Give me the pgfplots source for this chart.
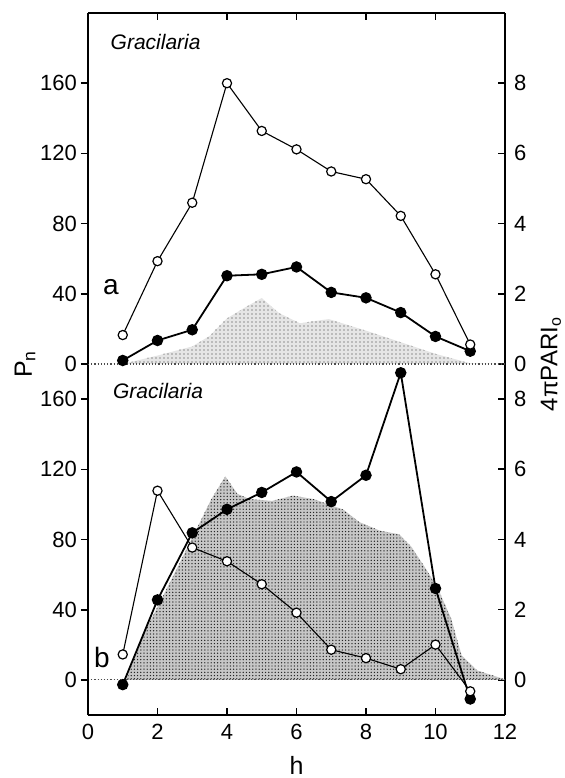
\documentclass[border=0pt]{standalone}
\usepackage{pgfplots}
\pgfplotsset{compat=1.18}
\usetikzlibrary{patterns.meta}
\usepackage{fontspec}
\setmainfont{Liberation Sans}
\begin{document}
\begin{tikzpicture}
\useasboundingbox (-44pt,-31.5pt) rectangle (238.5pt,357.5pt);
\pgfplotsset{
  base/.style={scale only axis, width=208.5pt, height=175.5pt, xmin=0, xmax=12,
    /pgf/number format/assume math mode=true,
    tick label style={font=\fontsize{11}{13}\selectfont},
    major tick length=3.5pt,
    axis line style={line width=1.1pt},
    every tick/.style={black, line width=0.8pt},
    clip=false, anchor=south west},
  filledser/.style={black, line width=0.9pt, mark=*, mark size=2.4pt, mark options={fill=black, solid}},
  openser/.style={black, line width=0.55pt, mark=*, mark size=2.3pt, mark options={fill=white, line width=0.6pt, solid}},
}
% ---------------- bottom panel (b) ----------------
\begin{axis}[base, at={(0,0)}, ymin=-1, ymax=9, axis y line*=right, axis x line=none,
  ytick={0,2,4,6,8}, tick align=inside, yticklabel style={xshift=1pt}]
  \addplot[draw=none, fill=black!22, postaction={pattern={Dots[radius=0.36pt, distance=1.6pt]}, pattern color=black!85}] coordinates {
    (0,0) (1.1,0) (1.6,1.3) (2.6,3.25) (3.55,5.15) (3.95,5.8) (4.3,5.3) (4.65,5.15)
    (5.3,5.1) (5.9,5.25) (6.5,5.15) (7.35,4.85) (7.8,4.5) (8.4,4.25) (8.95,4.15)
    (9.3,3.8) (9.7,3.2) (10.05,2.65) (10.45,1.75) (10.75,0.7) (11.2,0.27) (11.95,0.03) (12,0)
  } -- cycle;
  \addplot[black!70, densely dotted, line width=0.6pt] coordinates {(0,0) (12,0)};
\end{axis}
\begin{axis}[base, at={(0,0)}, ymin=-20, ymax=180, axis y line=none, axis x line*=bottom,
  tick align=inside, xtick={0,2,4,6,8,10,12}, xticklabel style={yshift=-1pt}]
\end{axis}
\begin{axis}[base, at={(0,0)}, name=botL, ymin=-20, ymax=180, axis y line*=left, axis x line=none,
  tick align=outside, ytick={0,40,80,120,160}, yticklabel style={xshift=1.5pt}]
  \addplot[filledser] coordinates {
    (1,-2.7) (2,45.6) (3,83.8) (4,97.2) (5,106.8) (6,118.5) (7,101.6) (8,116.6) (9,175) (10,52.1) (11,-10.9)};
  \addplot[openser] coordinates {
    (1,14.5) (2,107.8) (3,75.4) (4,67.6) (5,54.5) (6,38.3) (7,17.2) (8,12.4) (9,6.1) (10,20.1) (11,-6.5)};
  \node[anchor=west, font=\fontsize{10.5}{12}\selectfont\itshape] at (axis cs:0.52,164.6) {Gracilaria};
  \node[font=\fontsize{14}{16}\selectfont] at (axis cs:0.4,13) {b};
\end{axis}
% ---------------- top panel (a) ----------------
\begin{axis}[base, at={(0,175.5pt)}, ymin=0, ymax=10, axis y line*=right, axis x line=none,
  ytick={0,2,4,6,8}, tick align=inside, yticklabel style={xshift=1pt}]
  \addplot[draw=none, fill=black!10, postaction={pattern={Dots[radius=0.32pt, distance=2pt]}, pattern color=black!80}] coordinates {
    (0,0) (1.0,0) (2,0.24) (3,0.5) (3.5,0.8) (4,1.3) (4.5,1.6) (5,1.88) (5.5,1.45) (6.1,1.16)
    (6.5,1.22) (6.93,1.28) (8,0.95) (9,0.62) (10,0.29) (11,0.02) (12,0)
  } -- cycle;
  \addplot[black!70, densely dotted, line width=0.6pt] coordinates {(0,0) (12,0)};
\end{axis}
\begin{axis}[base, at={(0,175.5pt)}, ymin=0, ymax=200, axis y line=none, axis x line*=top,
  tick align=inside, xtick={2,4,6,8,10}, xticklabels={}]
\end{axis}
\begin{axis}[base, at={(0,175.5pt)}, name=topL, ymin=0, ymax=200, axis y line*=left, axis x line=none,
  tick align=outside, ytick={0,40,80,120,160}, yticklabel style={xshift=1.5pt}]
  \addplot[filledser] coordinates {
    (1,2) (2,13.4) (3,19.5) (4,50.3) (5,51.1) (6,55.3) (7,40.8) (8,37.7) (9,29.3) (10,15.7) (11,7.3)};
  \addplot[openser] coordinates {
    (1,16.5) (2,58.6) (3,91.9) (4,160) (5,132.8) (6,122.3) (7,109.7) (8,105.3) (9,84.4) (10,51.1) (11,11.1)};
  \node[anchor=west, font=\fontsize{10.5}{12}\selectfont\itshape] at (axis cs:0.45,183.7) {Gracilaria};
  \node[font=\fontsize{14}{16}\selectfont] at (axis cs:0.66,44) {a};
\end{axis}
% ---------------- axis labels ----------------
\node[rotate=90, font=\fontsize{12.5}{14}\selectfont] at ([xshift=-31.5pt]topL.south west) {P\textsubscript{n}};
\node[rotate=90, font=\fontsize{12}{14}\selectfont] at ([xshift=23pt]topL.south east) {4πPARI\textsubscript{o}};
\node[font=\fontsize{12.5}{14}\selectfont] at ([yshift=-25pt]botL.south) {h};
\end{tikzpicture}
\end{document}
